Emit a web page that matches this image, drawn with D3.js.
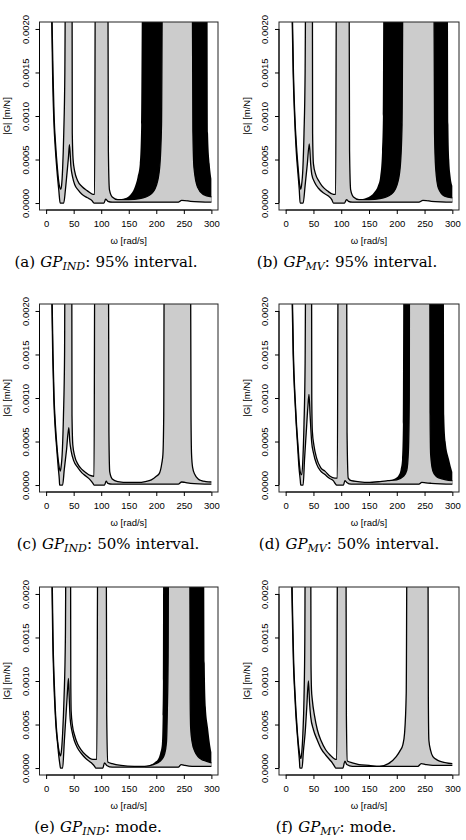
<!DOCTYPE html>
<html>
<head>
<meta charset="utf-8">
<script src="https://cdn.jsdelivr.net/npm/d3@7"></script>
<style>
    body { margin: 0; background: #fff; }
    svg text { font-family: "Liberation Sans", Arial, sans-serif; fill: #000; }
    .caption { font-family: "DejaVu Serif", serif; font-size: 15px; word-spacing: 0.5px; }
</style>
</head>
<body>
<svg id="fig" width="466" height="840"></svg>
<script>
// ---------------------------- DATA ----------------------------
// Points are [omega, |G|]; 0.003 means "off the top of the plot" (clipped)
const xTicks = [0, 50, 100, 150, 200, 250, 300];
const yTicks = [0, 0.0005, 0.001, 0.0015, 0.002];

const panelTags = ["(a)", "(b)", "(c)", "(d)", "(e)", "(f)"];
const panelModels = ["IND", "MV", "IND", "MV", "IND", "MV"];
const panelSummaries = ["95% interval.", "95% interval.", "50% interval.", "50% interval.", "mode.", "mode."];

// (a) GP_IND 95%
const lowerA = [[8, 0.003], [10, 0.0022], [12, 0.0014], [14, 0.00095], [17, 0.0006], [20, 0.00035], [23, 0.00015], [25.5, 0], [32, 0],
    [35, 0.00015], [38, 0.00035], [40.5, 0.00052], [42.4, 0.00067], [45, 0.00042], [48, 0.0003], [52, 0.00021], [58, 0.00015],
    [65, 0.0001], [75, 0.00006], [83, 0.00003], [87, 0], [105, 0], [108, 0.000045], [112, 0.00002], [120, 0.00001], [240, 0.00001],
    [246, 0.00003], [252, 0.000028], [262, 0.00002], [300, 0.00001]];
const upperA = [[8, 0.003], [10.5, 0.0022], [12.5, 0.0015], [14.5, 0.001], [17.5, 0.00065], [20.5, 0.0004], [23.5, 0.00022],
    [26.5, 0.00016], [28, 0.0002], [30, 0.0004], [32, 0.0008], [34, 0.0015], [35.5, 0.003], [47, 0.003], [47.5, 0.0008],
    [49, 0.0005], [52, 0.00036], [57, 0.00026], [65, 0.00019], [75, 0.00014], [85, 0.0001], [88, 0.0001], [89.5, 0.003],
    [112, 0.003], [113, 0.0006], [115, 0.00015], [120, 0.00007], [130, 0.00004], [150, 0.00004], [170, 0.00005], [190, 0.0001],
    [200, 0.0002], [206, 0.0004], [209.5, 0.0009], [211.5, 0.003], [265, 0.003], [266.5, 0.0008], [268.5, 0.0004],
    [275, 0.00018], [285, 0.0001], [300, 0.00007]];
// black band: [omega, low, high]
const blackA = [[112, 0.00002, 0.00002], [118, 0.00001, 0.00003], [128, 0.00001, 0.00004], [140, 0.00001, 0.00005],
    [152, 0.00001, 0.00009], [160, 0.00001, 0.00017], [166, 0.00001, 0.0003], [170, 0.00001, 0.00045], [172.5, 0.00001, 0.0009],
    [174.5, 0.00001, 0.003], [240, 0.00001, 0.003], [246, 0.00003, 0.003], [252, 0.000028, 0.003], [262, 0.00002, 0.003],
    [292.5, 0.000012, 0.003], [294, 0.000012, 0.0008], [297, 0.000011, 0.00045], [300, 0.00001, 0.00028]];

// (b) GP_MV 95%
const lowerB = [[8, 0.003], [11.5, 0.0022], [13.5, 0.0015], [16, 0.001], [19, 0.0006], [22, 0.00035], [24.5, 0.00015], [26, 0],
    [31.5, 0], [35, 0.0002], [39, 0.00045], [42.5, 0.00068], [45, 0.00045], [47, 0.00033], [52, 0.00024], [59, 0.00017],
    [67, 0.00012], [77, 0.00008], [83, 0.00004], [86, 0], [106, 0], [109.5, 0.00004], [113, 0.00002], [120, 0.00001],
    [240, 0.00001], [247, 0.00003], [253, 0.000028], [262, 0.00002], [300, 0.00001]];
const upperB = [[8, 0.003], [12, 0.0022], [14, 0.0015], [16.5, 0.001], [19.5, 0.00065], [22.5, 0.0004], [25, 0.00022],
    [27, 0.00016], [28.5, 0.0002], [31, 0.0004], [33, 0.0008], [35, 0.0015], [36.5, 0.003], [48, 0.003], [48.5, 0.0008],
    [50, 0.00045], [54, 0.00033], [60, 0.00025], [65, 0.0002], [75, 0.00014], [86, 0.0001], [90, 0.0001], [91.5, 0.003],
    [114, 0.003], [115, 0.0006], [117, 0.00015], [122, 0.00007], [132, 0.00004], [150, 0.00004], [170, 0.00005], [190, 0.0001],
    [200, 0.0002], [206, 0.0004], [209.5, 0.0009], [211.5, 0.003], [266.5, 0.003], [268, 0.0008], [270, 0.0004],
    [275, 0.00017], [286, 0.00008], [300, 0.00006]];
const blackB = [[114, 0.00002, 0.00002], [120, 0.00001, 0.00003], [132, 0.00001, 0.00004], [146, 0.00001, 0.00006],
    [160, 0.00001, 0.00013], [166, 0.00001, 0.0002], [170, 0.00001, 0.0003], [173.5, 0.00001, 0.0006], [175, 0.00001, 0.001],
    [176, 0.00001, 0.003], [240, 0.00001, 0.003], [247, 0.00003, 0.003], [253, 0.000028, 0.003], [262, 0.00002, 0.003],
    [291.5, 0.000012, 0.003], [293, 0.000012, 0.0009], [294.5, 0.000012, 0.0005], [297, 0.000011, 0.0003], [300, 0.00001, 0.0002]];

// (c) GP_IND 50%
const lowerC = [[8, 0.003], [10.5, 0.0021], [12, 0.0015], [14, 0.00098], [16.5, 0.00065], [19.5, 0.0004], [22, 0.0002],
    [24, 0.00006], [24.5, 0], [30, 0], [33, 0.00018], [37, 0.0004], [41.2, 0.00066], [43, 0.0005], [45.5, 0.00039], [50, 0.00028],
    [57.6, 0.0002], [65, 0.00014], [72.7, 0.0001], [80, 0.00006], [85, 0.00002], [87, 0], [106, 0], [109, 0.000045],
    [112, 0.00002], [120, 0.00001], [240, 0.00001], [246, 0.000035], [252, 0.00003], [262, 0.00002], [300, 0.00001]];
const upperC = [[8, 0.003], [11, 0.0021], [12.5, 0.0015], [14.5, 0.001], [17, 0.00068], [20, 0.00042], [23, 0.00024],
    [25.5, 0.00016], [27, 0.0002], [29.5, 0.0004], [31.5, 0.0008], [33.5, 0.0015], [34.5, 0.003], [46.5, 0.003], [47, 0.0008],
    [48.5, 0.00046], [52, 0.00033], [57.6, 0.00024], [65, 0.00018], [72.7, 0.00014], [80, 0.00011], [87, 0.0001], [88.5, 0.003],
    [113, 0.003], [114, 0.0006], [115.5, 0.00015], [120, 0.00007], [130, 0.00004], [150, 0.00003], [167, 0.00003],
    [180, 0.00004], [191, 0.00006], [200, 0.0001], [206, 0.00014], [210, 0.00025], [212, 0.00035], [213.5, 0.0008],
    [214.5, 0.003], [262, 0.003], [263, 0.0008], [264, 0.00035], [266, 0.0002], [270, 0.00012], [276, 0.00007],
    [282, 0.00005], [290, 0.00004], [300, 0.000035]];

// (d) GP_MV 50%
const lowerD = [[8, 0.003], [11.5, 0.0022], [13.5, 0.0015], [16.5, 0.001], [19, 0.0007], [21.5, 0.00045], [24, 0.0002],
    [26.5, 0.00004], [27, 0], [31.5, 0], [34, 0.0003], [37, 0.0006], [40, 0.0009], [42, 0.00104], [44, 0.0008], [46.7, 0.0005],
    [50, 0.00037], [55.7, 0.00024], [63, 0.00016], [70.7, 0.00012], [78, 0.00008], [85.6, 0.00005], [90, 0.00001], [91.6, 0],
    [104, 0], [106.6, 0.00005], [110, 0.00003], [118, 0.00001], [240, 0.00001], [245, 0.00003], [252, 0.000025],
    [262, 0.00002], [300, 0.00001]];
const upperD = [[8, 0.003], [12, 0.0022], [14, 0.0015], [17, 0.001], [19.5, 0.0007], [22, 0.00047], [25, 0.00022],
    [27.5, 0.00012], [29, 0.00012], [31, 0.0003], [33, 0.0007], [35, 0.0014], [36.5, 0.003], [46.5, 0.003], [47, 0.001],
    [48, 0.00062], [51, 0.00045], [55.7, 0.00031], [63, 0.0002], [70.7, 0.00016], [80, 0.0001], [88.6, 0.00008], [93, 0.00008],
    [94.6, 0.003], [109.6, 0.003], [110.5, 0.0006], [112.6, 0.00008], [118, 0.00005], [130, 0.00004], [148, 0.00003],
    [170, 0.00004], [184, 0.00005], [200, 0.00006], [212, 0.0001], [218, 0.00017], [221, 0.0004], [222.5, 0.001], [223, 0.003],
    [259.3, 0.003], [260, 0.0008], [261, 0.00035], [265, 0.00016], [271, 0.0001], [277, 0.00008], [300, 0.00005]];
const blackD = [[175, 0.00001, 0.00003], [185, 0.00001, 0.00005], [195, 0.00001, 0.00007], [203, 0.00001, 0.00011],
    [207, 0.00001, 0.00018], [209.5, 0.00001, 0.0003], [211, 0.00001, 0.0007], [212, 0.00001, 0.003], [240, 0.00001, 0.003],
    [245, 0.00003, 0.003], [252, 0.000025, 0.003], [262, 0.00002, 0.003], [284.5, 0.000015, 0.003], [285.5, 0.000015, 0.0008],
    [288, 0.000014, 0.0005], [294, 0.000012, 0.0003], [300, 0.00001, 0.00015]];

// (e) GP_IND mode
const lowerE = [[8, 0.003], [10.5, 0.0022], [12, 0.0015], [14, 0.001], [16, 0.0007], [18, 0.00047], [20.5, 0.0003],
    [23, 0.00014], [25.5, 0.00002], [26, 0], [30, 0], [33, 0.0003], [36, 0.0006], [38.5, 0.00085], [40.6, 0.00103], [42, 0.0008],
    [43.6, 0.00057], [47, 0.00042], [51.5, 0.00031], [57, 0.00023], [63.6, 0.00017], [72, 0.00011], [82, 0.00006], [88, 0.00002],
    [90, 0], [103, 0], [106, 0.00006], [110, 0.00003], [120, 0.00001], [240, 0.00001], [245, 0.00004], [252, 0.00003],
    [265, 0.00002], [300, 0.00002]];
const upperE = [[8, 0.003], [11, 0.0022], [12.5, 0.0015], [14.5, 0.00103], [16.5, 0.0007], [18.5, 0.00048], [21, 0.0003],
    [23.5, 0.00019], [26, 0.00014], [27.5, 0.00018], [30, 0.0004], [32.5, 0.0008], [35, 0.0015], [36.4, 0.003], [44.2, 0.003],
    [44.8, 0.001], [45.5, 0.00065], [48, 0.00048], [51.5, 0.00038], [57, 0.00028], [63.6, 0.00021], [72, 0.00015], [85, 0.0001],
    [92, 0.0001], [94, 0.003], [109, 0.003], [110, 0.0006], [112, 0.00007], [120, 0.00005], [136, 0.00003], [160, 0.00002],
    [179, 0.00002], [195, 0.00004], [203, 0.00006], [210, 0.0001], [215, 0.00016], [218.5, 0.0003], [220, 0.00065],
    [221.5, 0.0013], [222.4, 0.003], [260.6, 0.003], [261.5, 0.0008], [262.4, 0.00046], [265, 0.0003], [270, 0.00019],
    [276, 0.00013], [282, 0.0001], [290, 0.00008], [300, 0.00006]];
const blackE = [[180, 0.00001, 0.00002], [191, 0.00001, 0.00004], [198, 0.00001, 0.00007], [203, 0.00001, 0.0001],
    [207, 0.00001, 0.00017], [210, 0.00001, 0.00027], [211.5, 0.00001, 0.0006], [212, 0.00001, 0.001], [212.5, 0.00001, 0.003],
    [240, 0.00001, 0.003], [245, 0.00004, 0.003], [252, 0.00003, 0.003], [265, 0.00002, 0.003], [286, 0.00002, 0.003],
    [288, 0.00002, 0.0012], [290, 0.00002, 0.0007], [294, 0.00002, 0.00046], [297, 0.00002, 0.0003], [300, 0.00002, 0.00018]];

// (f) GP_MV mode
const lowerF = [[8, 0.003], [11, 0.0021], [12.5, 0.0016], [14, 0.0012], [16, 0.0009], [18, 0.00065], [20.5, 0.00042],
    [23, 0.00022], [25, 0.00006], [25.5, 0], [29.5, 0], [32, 0.0002], [35, 0.0004], [38, 0.0007], [41, 0.001], [43, 0.00075],
    [45, 0.00059], [50, 0.00044], [57, 0.00032], [64, 0.00022], [72, 0.00015], [80, 0.00009], [84, 0.00006], [88, 0.00002],
    [90, 0], [103, 0], [106.6, 0.00008], [110, 0.00004], [120, 0.00002], [169, 0.00002], [238, 0.00002], [244, 0.00005],
    [252, 0.00004], [265, 0.00003], [300, 0.00003]];
const upperF = [[8, 0.003], [11.5, 0.0021], [13, 0.0016], [14.5, 0.0012], [16.5, 0.0009], [18.5, 0.00066], [21, 0.00042],
    [23.5, 0.00024], [26, 0.00013], [27.5, 0.00011], [29, 0.00018], [31, 0.0004], [33, 0.0008], [34.5, 0.0015], [35.5, 0.003],
    [45, 0.003], [45.6, 0.0012], [46.5, 0.0009], [48, 0.00078], [52, 0.0006], [57, 0.00044], [64, 0.00031], [72, 0.00021],
    [80, 0.00015], [90, 0.0001], [92, 0.0001], [93.4, 0.003], [108.4, 0.003], [109.3, 0.0006], [111, 0.00008], [120, 0.00006],
    [132, 0.00004], [150, 0.00003], [169, 0.00002], [185, 0.00005], [199, 0.00013], [206, 0.0002], [211, 0.00027],
    [214, 0.0004], [217, 0.00086], [218.7, 0.003], [256, 0.003], [256.8, 0.0008], [257.8, 0.00032], [261, 0.0002],
    [265, 0.00013], [271, 0.0001], [277, 0.00008], [300, 0.00005]];

const panelLowers = [lowerA, lowerB, lowerC, lowerD, lowerE, lowerF];
const panelUppers = [upperA, upperB, upperC, upperD, upperE, upperF];
const panelBlacks = [blackA, blackB, null, blackD, blackE, null];

// ---------------------------- LAYOUT ----------------------------
const colLeft = [39.5, 279];
const colRight = [218, 459];
const rowTop = [22, 304, 587];
const rowBottom = [210, 492, 775];
const captionCentre = [106, 347, 108, 349, 98, 336];
const grey = "#cccccc";

const svg = d3.select("#fig");

panelTags.forEach((tag, i) => {
    const col = i % 2;
    const row = Math.floor(i / 2);
    const left = colLeft[col], right = colRight[col];
    const top = rowTop[row], bottom = rowBottom[row];

    // R style: 4% padding on both axes
    const x = d3.scaleLinear().domain([-12, 312]).range([left, right]);
    const y = d3.scaleLinear().domain([-0.00008, 0.00208]).range([bottom, top]);

    const g = svg.append("g").attr("class", "panel");

    g.append("clipPath")
        .attr("id", "clip" + i)
        .append("rect")
        .attr("x", left).attr("y", top)
        .attr("width", right - left).attr("height", bottom - top);

    const plot = g.append("g").attr("clip-path", "url(#clip" + i + ")");

    const line = d3.line()
        .x(d => x(d[0]))
        .y(d => y(d[1]))
        .curve(d3.curveMonotoneX);

    // Black band underneath
    if (panelBlacks[i]) {
        const blackArea = d3.area()
            .x(d => x(d[0]))
            .y0(d => y(d[1]))
            .y1(d => y(d[2]))
            .curve(d3.curveMonotoneX);
        plot.append("path")
            .attr("d", blackArea(panelBlacks[i]))
            .attr("fill", "#000");
    }

    // Grey band: upper forwards, lower backwards
    const upper = panelUppers[i];
    const lower = panelLowers[i];
    const bandPath = line(upper) + line(lower.slice().reverse()).replace(/^M/, "L") + "Z";
    plot.append("path")
        .attr("d", bandPath)
        .attr("fill", grey);

    [upper, lower].forEach(pts => {
        plot.append("path")
            .attr("d", line(pts))
            .attr("fill", "none")
            .attr("stroke", "#000")
            .attr("stroke-width", 1.3)
            .attr("stroke-linejoin", "round");
    });

    // Box
    g.append("rect")
        .attr("x", left).attr("y", top)
        .attr("width", right - left).attr("height", bottom - top)
        .attr("fill", "none")
        .attr("stroke", "#222")
        .attr("stroke-width", 1);

    // x axis
    const xAxis = g.append("g")
        .attr("transform", "translate(0," + bottom + ")")
        .call(d3.axisBottom(x).tickValues(xTicks).tickSize(4).tickPadding(6.5).tickSizeOuter(0));
    xAxis.select(".domain")
        .attr("d", "M" + x(0) + ",0H" + x(300));
    xAxis.selectAll("text")
        .attr("font-size", "9.5px")
        .attr("font-family", "Liberation Sans, Arial, sans-serif");

    // y axis with vertical labels (R las = 0)
    const yAxis = g.append("g")
        .attr("transform", "translate(" + left + ",0)")
        .call(d3.axisLeft(y).tickValues(yTicks).tickSize(4).tickFormat(d3.format(".4f")).tickSizeOuter(0));
    yAxis.select(".domain")
        .attr("d", "M0," + y(0) + "V" + y(0.002));
    yAxis.selectAll("text")
        .attr("x", 0)
        .attr("y", -11)
        .attr("dy", null)
        .attr("text-anchor", "middle")
        .attr("transform", "rotate(-90)")
        .attr("font-size", "9.5px")
        .attr("font-family", "Liberation Sans, Arial, sans-serif");

    // Axis titles
    g.append("text")
        .attr("x", (x(0) + x(300)) / 2)
        .attr("y", bottom + 34)
        .attr("text-anchor", "middle")
        .attr("font-size", "9.5px")
        .text("ω [rad/s]");
    g.append("text")
        .attr("transform", "translate(" + (left - 29.5) + "," + ((y(0) + y(0.002)) / 2) + ") rotate(-90)")
        .attr("text-anchor", "middle")
        .attr("font-size", "9.5px")
        .text("|G| [m/N]");

    // Caption
    const cap = g.append("text")
        .attr("class", "caption")
        .attr("x", captionCentre[i])
        .attr("y", bottom + 57)
        .attr("text-anchor", "middle");
    cap.append("tspan").text(tag + " ");
    cap.append("tspan").attr("font-style", "italic").text("GP");
    cap.append("tspan").attr("font-style", "italic").attr("font-size", "11px").attr("dy", 3).text(panelModels[i]);
    cap.append("tspan").attr("dy", -3).text(": " + panelSummaries[i]);
});
</script>
</body>
</html>
